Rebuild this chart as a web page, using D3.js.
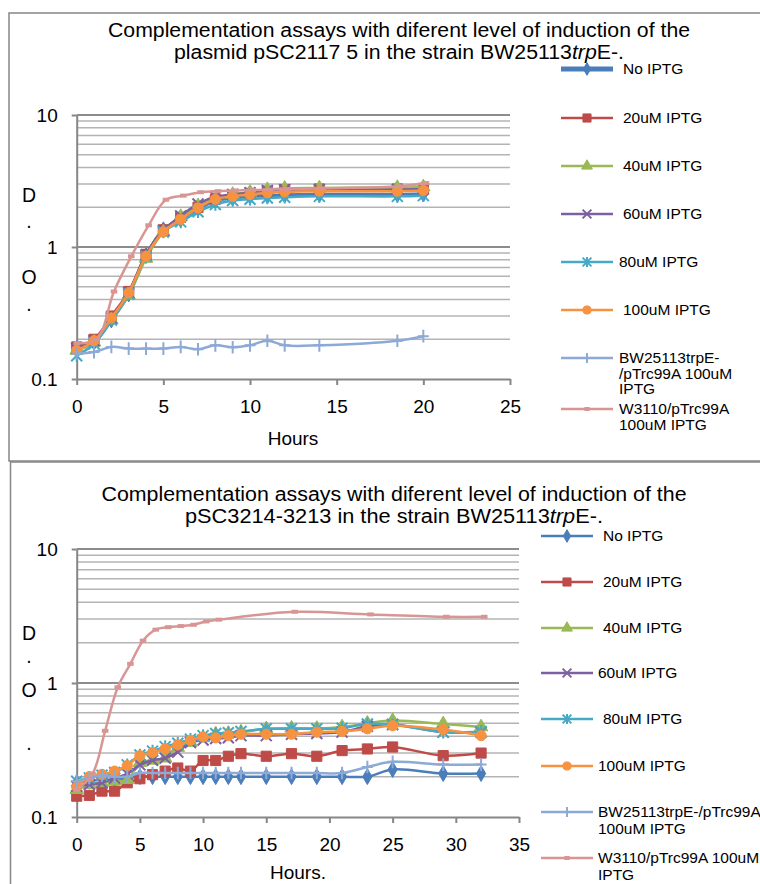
<!DOCTYPE html>
<html><head><meta charset="utf-8">
<script src="https://cdn.jsdelivr.net/npm/d3@7"></script>
<style>
html,body{margin:0;padding:0;background:#fff;}
svg text{font-family:"Liberation Sans",Arial,sans-serif;fill:#000;}
</style></head>
<body>
<svg id="c" width="760" height="884"></svg>
<script>
// ---------- DATA ----------
const seriesNames = ["No IPTG","20uM IPTG","40uM IPTG","60uM IPTG","80uM IPTG","100uM IPTG","BW25113trpE-/pTrc99A 100uM IPTG","W3110/pTrc99A 100uM IPTG"];

// Top chart (pSC2117 5)
const topTimes = [0,1,2,3,4,5,6,7,8,9,10,11,12,14,18.5,20];
const topNoIPTG = [0.17,0.19,0.28,0.44,0.86,1.35,1.62,1.95,2.25,2.35,2.42,2.45,2.48,2.5,2.5,2.52];
const top20uM   = [0.175,0.2,0.3,0.46,0.88,1.35,1.68,2.0,2.3,2.45,2.55,2.65,2.72,2.75,2.75,2.78];
const top40uM   = [0.165,0.19,0.28,0.43,0.82,1.3,1.7,2.05,2.35,2.5,2.6,2.72,2.78,2.8,2.82,2.85];
const top60uM   = [0.17,0.195,0.29,0.45,0.87,1.33,1.72,2.12,2.4,2.5,2.58,2.68,2.72,2.72,2.72,2.75];
const top80uM   = [0.15,0.185,0.28,0.44,0.85,1.3,1.55,1.85,2.1,2.25,2.3,2.35,2.38,2.42,2.42,2.45];
const top100uM  = [0.165,0.195,0.29,0.45,0.85,1.3,1.62,1.98,2.3,2.42,2.5,2.58,2.62,2.65,2.65,2.68];
const topBW     = [0.156,0.16,0.175,0.17,0.17,0.17,0.175,0.168,0.18,0.174,0.18,0.195,0.18,0.18,0.195,0.211];
const topW3110Times = [0,1.15,2.15,3.15,4.15,5.15,6.15,7.15,8.15,9.15,10.15,11.15,12.15,14.15,18.65,20.15];
const topW3110  = [0.187,0.2,0.46,0.85,1.46,2.28,2.45,2.6,2.65,2.68,2.7,2.72,2.75,2.78,2.88,3.05];

// Bottom chart (pSC3214-3213)
const botTimes = [0,1,2,3,4,5,6,7,8,9,10,11,12,13,15,17,19,21,23,25,29,32];
const botNoIPTG = [0.18,0.185,0.19,0.19,0.195,0.2,0.2,0.2,0.2,0.2,0.2,0.2,0.2,0.2,0.2,0.2,0.2,0.2,0.2,0.226,0.211,0.211];
const bot20uM   = [0.143,0.145,0.156,0.156,0.18,0.193,0.207,0.22,0.232,0.22,0.264,0.264,0.284,0.297,0.284,0.297,0.284,0.313,0.322,0.333,0.287,0.3];
const bot40uM   = [0.16,0.175,0.18,0.185,0.19,0.255,0.265,0.275,0.33,0.36,0.39,0.415,0.42,0.43,0.455,0.46,0.458,0.47,0.5,0.525,0.495,0.47];
const bot60uM   = [0.17,0.175,0.18,0.195,0.21,0.245,0.265,0.275,0.305,0.36,0.375,0.385,0.39,0.405,0.405,0.415,0.42,0.43,0.475,0.49,0.43,0.43];
const bot80uM   = [0.185,0.196,0.205,0.215,0.245,0.29,0.31,0.335,0.355,0.38,0.405,0.42,0.425,0.435,0.455,0.455,0.455,0.46,0.495,0.49,0.43,0.435];
const bot100uM  = [0.168,0.2,0.208,0.22,0.242,0.287,0.302,0.323,0.345,0.373,0.396,0.39,0.405,0.415,0.415,0.415,0.43,0.435,0.455,0.48,0.45,0.405];
const botBW     = [0.185,0.196,0.204,0.2,0.2,0.213,0.213,0.213,0.213,0.213,0.213,0.213,0.213,0.213,0.213,0.213,0.213,0.213,0.236,0.258,0.246,0.246];
const botW3110Times = [0,1.25,2.25,3.25,4.25,5.25,6.25,7.25,8.25,9.25,10.25,11.25,17.25,23.25,29.25,32.25];
const botW3110  = [0.16,0.21,0.44,0.93,1.39,2.07,2.5,2.61,2.66,2.72,2.88,2.97,3.4,3.25,3.12,3.12];

const yTicks = [0.1,1,10];
const topXTicks = [0,5,10,15,20,25];
const botXTicks = [0,5,10,15,20,25,30,35];

// ---------- STYLE ----------
const colors = ["#4A7EBB","#BE4B48","#98B954","#7D60A0","#46AAC5","#F69240","#8DA9D6","#D99594"];
const markers = ["diamond","square","triangle","x","star","circle","plus","dash"];

const svg = d3.select("#c");
const FONT = '"Liberation Sans",Arial,sans-serif';

// frames
svg.append("rect").attr("x",9).attr("y",13).attr("width",760).attr("height",448)
  .attr("fill","none").attr("stroke","#868686").attr("stroke-width",1.5);
svg.append("rect").attr("x",10.5).attr("y",462).attr("width",760).attr("height",440)
  .attr("fill","none").attr("stroke","#868686").attr("stroke-width",1.5);

function markerPath(type, s){
  const h=s/2;
  switch(type){
    case "diamond": return d3.symbol(d3.symbolDiamond, s*s*0.6)();
    case "square": return d3.symbol(d3.symbolSquare, s*s*0.85)();
    case "triangle": return d3.symbol(d3.symbolTriangle, s*s*0.65)();
    case "circle": return d3.symbol(d3.symbolCircle, s*s*0.68)();
    case "x": return `M${-h},${-h}L${h},${h}M${-h},${h}L${h},${-h}`;
    case "star": return `M${-h},${-h}L${h},${h}M${-h},${h}L${h},${-h}M0,${-h*1.15}L0,${h*1.15}`;
    case "plus": return `M${-h},0L${h},0M0,${-h*1.15}L0,${h*1.15}`;
    case "dash": return `M${-h*0.6},0L${h*0.6},0`;
  }
}
function drawMarker(g, type, color, cx, cy, s){
  const p = g.append("path").attr("d", markerPath(type,s)).attr("transform",`translate(${cx},${cy})`);
  if(["x","star","plus"].includes(type)){
    p.attr("fill","none").attr("stroke",color).attr("stroke-width",2);
  } else if(type==="dash"){
    p.attr("fill","none").attr("stroke",color).attr("stroke-width",4);
  } else {
    p.attr("fill",color).attr("stroke",color).attr("stroke-width",1);
  }
}

function drawChart(cfg){
  const g = svg.append("g");
  const x = d3.scaleLinear().domain([0,cfg.xmax]).range([cfg.x0,cfg.x1]);
  const y = d3.scaleLog().domain([0.1,10]).range([cfg.yb,cfg.yt]);
  // gridlines
  const grid = [];
  [0.1,1].forEach(d=>{ for(let k=1;k<=9;k++){ if(!(d===0.1&&k===1)) grid.push(k*d);} });
  grid.push(10);
  g.selectAll(".grid").data(grid).enter().append("line")
    .attr("x1",cfg.x0).attr("x2",cfg.x1)
    .attr("y1",d=>y(d)).attr("y2",d=>y(d))
    .attr("stroke",d=>(Math.abs(d-1)<1e-9||Math.abs(d-10)<1e-9)?"#8C8C8C":"#B4B4B4")
    .attr("stroke-width",d=>(Math.abs(d-1)<1e-9||Math.abs(d-10)<1e-9)?2:1.5);
  // axes
  const ax = g.append("g").attr("transform",`translate(0,${cfg.yb})`)
    .call(d3.axisBottom(x).tickValues(cfg.xticks).tickSize(6).tickSizeOuter(0).tickPadding(15).tickFormat(d3.format("d")));
  const ay = g.append("g").attr("transform",`translate(${cfg.x0},0)`)
    .call(d3.axisLeft(y).tickValues(yTicks).tickSize(5).tickSizeOuter(0).tickPadding(14).tickFormat(d=>String(d)));
  [ax,ay].forEach(a=>{
    a.select(".domain").attr("stroke","#868686").attr("stroke-width",2);
    a.selectAll(".tick line").attr("stroke","#868686").attr("stroke-width",2);
    a.selectAll("text").attr("font-family",FONT).attr("font-size",19).attr("fill","#000");
  });
  ay.selectAll(".tick text").attr("dy","0.34em");
  // titles
  cfg.title.forEach((ln,i)=>{
    const t = svg.append("text").attr("x",cfg.titleX).attr("y",cfg.titleY+i*cfg.titleLH)
      .attr("text-anchor","middle").attr("font-size",19.5)
      .attr("textLength",ln.w).attr("lengthAdjust","spacingAndGlyphs");
    ln.parts.forEach(p=>{
      const ts = t.append("tspan").text(p.t);
      if(p.i) ts.attr("font-style","italic");
    });
  });
  // axis title
  svg.append("text").attr("x",cfg.xlabX).attr("y",cfg.xlabY).attr("text-anchor","middle")
    .attr("font-size",19).text(cfg.xlab);
  cfg.ylab.forEach(l=>{
    svg.append("text").attr("x",29).attr("y",l.y).attr("text-anchor","middle").attr("font-size",19.5).text(l.t);
  });
  // series
  const line = d3.line().x(d=>x(d[0])).y(d=>y(d[1])).curve(d3.curveCatmullRom.alpha(0.5));
  cfg.series.forEach((s,i)=>{
    const pts = s.t.map((t,j)=>[t,s.v[j]]);
    g.append("path").attr("d",line(pts)).attr("fill","none").attr("stroke",colors[i])
      .attr("stroke-width",s.lw||2.5).attr("stroke-linejoin","round");
    pts.forEach(p=>drawMarker(g, markers[i], colors[i], x(p[0]), y(p[1]), cfg.ms));
  });
  // legend
  cfg.legend.forEach((L,i)=>{
    const lg = svg.append("g");
    lg.append("line").attr("x1",cfg.lx1).attr("x2",cfg.lx2).attr("y1",L.y).attr("y2",L.y)
      .attr("stroke",colors[i]).attr("stroke-width",(cfg.series[i].lw||2.5)+ (i===0&&cfg.thickFirst?1.5:0));
    drawMarker(lg, markers[i], colors[i], (cfg.lx1+cfg.lx2)/2, L.y, cfg.ms*0.8);
    L.lines.forEach((tx,k)=>{
      lg.append("text").attr("x",cfg.tx+(L.dx||0)).attr("y",L.y+k*cfg.legLH).attr("dy","0.35em")
        .attr("font-size",15.5).text(tx);
    });
  });
}

drawChart({
  x0:76.7, x1:510, yb:379, yt:115, xmax:25, xticks:topXTicks, ms:11, thickFirst:true, legLH:15.5,
  title:[{parts:[{t:"Complementation assays with diferent level of induction of the"}], w:582},
         {parts:[{t:"plasmid pSC2117 5 in the strain BW25113"},{t:"trp",i:true},{t:"E-."}], w:450}],
  titleX:399, titleY:37, titleLH:21.5,
  xlab:"Hours", xlabX:293, xlabY:445,
  ylab:[{t:"D",y:202},{t:".",y:228},{t:"O",y:284},{t:".",y:311}],
  series:[
    {t:topTimes,v:topNoIPTG,lw:3.5},{t:topTimes,v:top20uM},{t:topTimes,v:top40uM},
    {t:topTimes,v:top60uM},{t:topTimes,v:top80uM},{t:topTimes,v:top100uM},
    {t:topTimes,v:topBW},{t:topW3110Times,v:topW3110}],
  lx1:561, lx2:613, tx:623,
  legend:[{y:69,lines:["No IPTG"],dx:0},{y:118,lines:["20uM IPTG"]},{y:166,lines:["40uM IPTG"]},
          {y:214,lines:["60uM IPTG"]},{y:262,lines:["80uM IPTG"],dx:-4},{y:310,lines:["100uM IPTG"]},
          {y:358,lines:["BW25113trpE-","/pTrc99A 100uM","IPTG"],dx:-4},
          {y:409,lines:["W3110/pTrc99A","100uM IPTG"],dx:-4}]
});

drawChart({
  x0:76.7, x1:519, yb:817, yt:549, xmax:35, xticks:botXTicks, ms:11, legLH:17,
  title:[{parts:[{t:"Complementation assays with diferent level of induction of the"}], w:585},
         {parts:[{t:"pSC3214-3213 in the strain BW25113"},{t:"trp",i:true},{t:"E-."}], w:418}],
  titleX:394, titleY:501, titleLH:21.5,
  xlab:"Hours.", xlabX:298, xlabY:879,
  ylab:[{t:"D",y:640},{t:".",y:663},{t:"O",y:697},{t:".",y:750}],
  series:[
    {t:botTimes,v:botNoIPTG},{t:botTimes,v:bot20uM},{t:botTimes,v:bot40uM},
    {t:botTimes,v:bot60uM},{t:botTimes,v:bot80uM},{t:botTimes,v:bot100uM},
    {t:botTimes,v:botBW},{t:botW3110Times,v:botW3110}],
  lx1:541, lx2:593, tx:603,
  legend:[{y:536,lines:["No IPTG"]},{y:582,lines:["20uM IPTG"]},{y:628,lines:["40uM IPTG"]},
          {y:673,lines:["60uM IPTG"],dx:-5},{y:719,lines:["80uM IPTG"]},{y:766,lines:["100uM IPTG"],dx:-5},
          {y:812,lines:["BW25113trpE-/pTrc99A","100uM IPTG"],dx:-5},
          {y:858,lines:["W3110/pTrc99A 100uM","IPTG"],dx:-5}]
});
</script>
</body></html>
